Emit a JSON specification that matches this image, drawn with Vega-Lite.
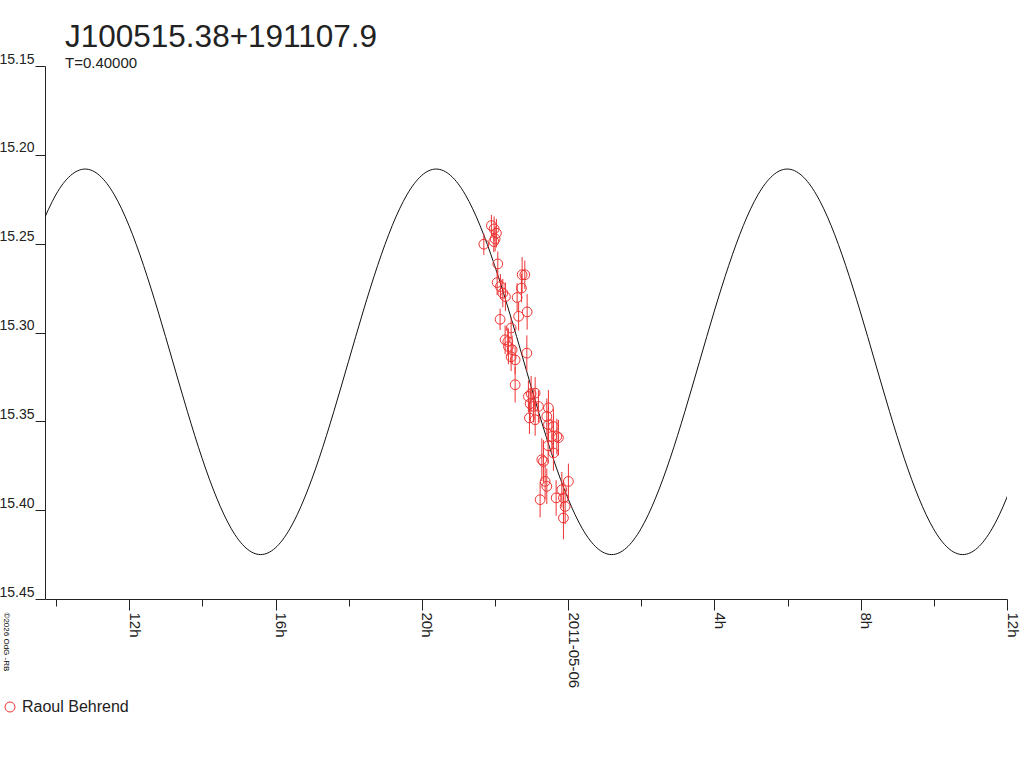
{
  "$schema": "https://vega.github.io/schema/vega-lite/v6.json",
  "width": 962,
  "height": 533,
  "autosize": "none",
  "padding": {"left": 45, "top": 66, "right": 17, "bottom": 169},
  "background": "white",
  "config": {
    "view": {"stroke": null},
    "font": "Liberation Sans",
    "axis": {"grid": false, "domainColor": "#222", "tickColor": "#222", "labelColor": "#222", "labelFont": "Liberation Sans", "titleFont": "Liberation Sans"}
  },
  "title": {
    "text": "J100515.38+191107.9",
    "subtitle": "T=0.40000",
    "anchor": "start",
    "frame": "group",
    "dx": 20,
    "offset": -19,
    "fontSize": 31.5,
    "fontWeight": "normal",
    "color": "#222",
    "subtitleFontSize": 15,
    "subtitleColor": "#222",
    "subtitlePadding": 3
  },
  "datasets": {
    "curve": [
      {"hour": 9.59, "mag": 15.2398}, {"hour": 9.99, "mag": 15.2225}, {"hour": 10.39, "mag": 15.2117},
      {"hour": 10.79, "mag": 15.208}, {"hour": 11.19, "mag": 15.2117}, {"hour": 11.59, "mag": 15.2225},
      {"hour": 11.99, "mag": 15.2398}, {"hour": 12.39, "mag": 15.2623}, {"hour": 12.79, "mag": 15.2884},
      {"hour": 13.19, "mag": 15.3165}, {"hour": 13.59, "mag": 15.3446}, {"hour": 13.99, "mag": 15.3708},
      {"hour": 14.39, "mag": 15.3932}, {"hour": 14.79, "mag": 15.4105}, {"hour": 15.19, "mag": 15.4213},
      {"hour": 15.59, "mag": 15.425}, {"hour": 15.99, "mag": 15.4213}, {"hour": 16.39, "mag": 15.4105},
      {"hour": 16.79, "mag": 15.3932}, {"hour": 17.19, "mag": 15.3708}, {"hour": 17.59, "mag": 15.3446},
      {"hour": 17.99, "mag": 15.3165}, {"hour": 18.39, "mag": 15.2884}, {"hour": 18.79, "mag": 15.2623},
      {"hour": 19.19, "mag": 15.2398}, {"hour": 19.59, "mag": 15.2225}, {"hour": 19.99, "mag": 15.2117},
      {"hour": 20.39, "mag": 15.208}, {"hour": 20.79, "mag": 15.2117}, {"hour": 21.19, "mag": 15.2225},
      {"hour": 21.59, "mag": 15.2398}, {"hour": 21.99, "mag": 15.2623}, {"hour": 22.39, "mag": 15.2884},
      {"hour": 22.79, "mag": 15.3165}, {"hour": 23.19, "mag": 15.3446}, {"hour": 23.59, "mag": 15.3708},
      {"hour": 23.99, "mag": 15.3932}, {"hour": 24.39, "mag": 15.4105}, {"hour": 24.79, "mag": 15.4213},
      {"hour": 25.19, "mag": 15.425}, {"hour": 25.59, "mag": 15.4213}, {"hour": 25.99, "mag": 15.4105},
      {"hour": 26.39, "mag": 15.3932}, {"hour": 26.79, "mag": 15.3708}, {"hour": 27.19, "mag": 15.3446},
      {"hour": 27.59, "mag": 15.3165}, {"hour": 27.99, "mag": 15.2884}, {"hour": 28.39, "mag": 15.2623},
      {"hour": 28.79, "mag": 15.2398}, {"hour": 29.19, "mag": 15.2225}, {"hour": 29.59, "mag": 15.2117},
      {"hour": 29.99, "mag": 15.208}, {"hour": 30.39, "mag": 15.2117}, {"hour": 30.79, "mag": 15.2225},
      {"hour": 31.19, "mag": 15.2398}, {"hour": 31.59, "mag": 15.2623}, {"hour": 31.99, "mag": 15.2884},
      {"hour": 32.39, "mag": 15.3165}, {"hour": 32.79, "mag": 15.3446}, {"hour": 33.19, "mag": 15.3708},
      {"hour": 33.59, "mag": 15.3932}, {"hour": 33.99, "mag": 15.4105}, {"hour": 34.39, "mag": 15.4213},
      {"hour": 34.79, "mag": 15.425}, {"hour": 35.19, "mag": 15.4213}, {"hour": 35.59, "mag": 15.4105},
      {"hour": 35.99, "mag": 15.3932}, {"hour": 36.39, "mag": 15.3708}
    ],
    "obs": [
      {"hour": 21.694, "mag": 15.2503, "err": 0.006, "observer": "Raoul Behrend"},
      {"hour": 21.901, "mag": 15.2398, "err": 0.006, "observer": "Raoul Behrend"},
      {"hour": 22.038, "mag": 15.2441, "err": 0.008, "observer": "Raoul Behrend"},
      {"hour": 21.967, "mag": 15.2488, "err": 0.006, "observer": "Raoul Behrend"},
      {"hour": 22.003, "mag": 15.2473, "err": 0.007, "observer": "Raoul Behrend"},
      {"hour": 21.975, "mag": 15.2417, "err": 0.007, "observer": "Raoul Behrend"},
      {"hour": 22.076, "mag": 15.2614, "err": 0.007, "observer": "Raoul Behrend"},
      {"hour": 22.057, "mag": 15.2719, "err": 0.007, "observer": "Raoul Behrend"},
      {"hour": 22.147, "mag": 15.2741, "err": 0.007, "observer": "Raoul Behrend"},
      {"hour": 22.213, "mag": 15.2778, "err": 0.008, "observer": "Raoul Behrend"},
      {"hour": 22.284, "mag": 15.2798, "err": 0.008, "observer": "Raoul Behrend"},
      {"hour": 22.139, "mag": 15.2926, "err": 0.006, "observer": "Raoul Behrend"},
      {"hour": 22.741, "mag": 15.2675, "err": 0.01, "observer": "Raoul Behrend"},
      {"hour": 22.815, "mag": 15.2675, "err": 0.008, "observer": "Raoul Behrend"},
      {"hour": 22.722, "mag": 15.275, "err": 0.008, "observer": "Raoul Behrend"},
      {"hour": 22.604, "mag": 15.2803, "err": 0.008, "observer": "Raoul Behrend"},
      {"hour": 22.878, "mag": 15.2884, "err": 0.01, "observer": "Raoul Behrend"},
      {"hour": 22.645, "mag": 15.2909, "err": 0.008, "observer": "Raoul Behrend"},
      {"hour": 22.44, "mag": 15.2975, "err": 0.006, "observer": "Raoul Behrend"},
      {"hour": 22.276, "mag": 15.3041, "err": 0.008, "observer": "Raoul Behrend"},
      {"hour": 22.35, "mag": 15.3051, "err": 0.008, "observer": "Raoul Behrend"},
      {"hour": 22.366, "mag": 15.3079, "err": 0.01, "observer": "Raoul Behrend"},
      {"hour": 22.468, "mag": 15.3097, "err": 0.008, "observer": "Raoul Behrend"},
      {"hour": 22.44, "mag": 15.3137, "err": 0.008, "observer": "Raoul Behrend"},
      {"hour": 22.55, "mag": 15.3154, "err": 0.008, "observer": "Raoul Behrend"},
      {"hour": 22.87, "mag": 15.3116, "err": 0.01, "observer": "Raoul Behrend"},
      {"hour": 22.55, "mag": 15.3294, "err": 0.01, "observer": "Raoul Behrend"},
      {"hour": 22.913, "mag": 15.336, "err": 0.009, "observer": "Raoul Behrend"},
      {"hour": 22.987, "mag": 15.3345, "err": 0.01, "observer": "Raoul Behrend"},
      {"hour": 23.097, "mag": 15.3341, "err": 0.009, "observer": "Raoul Behrend"},
      {"hour": 22.96, "mag": 15.3401, "err": 0.009, "observer": "Raoul Behrend"},
      {"hour": 23.05, "mag": 15.3416, "err": 0.009, "observer": "Raoul Behrend"},
      {"hour": 23.187, "mag": 15.3416, "err": 0.009, "observer": "Raoul Behrend"},
      {"hour": 23.46, "mag": 15.3424, "err": 0.01, "observer": "Raoul Behrend"},
      {"hour": 22.941, "mag": 15.3481, "err": 0.009, "observer": "Raoul Behrend"},
      {"hour": 23.097, "mag": 15.3491, "err": 0.009, "observer": "Raoul Behrend"},
      {"hour": 23.416, "mag": 15.3472, "err": 0.01, "observer": "Raoul Behrend"},
      {"hour": 23.46, "mag": 15.3519, "err": 0.01, "observer": "Raoul Behrend"},
      {"hour": 23.597, "mag": 15.3529, "err": 0.01, "observer": "Raoul Behrend"},
      {"hour": 23.553, "mag": 15.3585, "err": 0.01, "observer": "Raoul Behrend"},
      {"hour": 23.69, "mag": 15.3585, "err": 0.01, "observer": "Raoul Behrend"},
      {"hour": 23.734, "mag": 15.3592, "err": 0.01, "observer": "Raoul Behrend"},
      {"hour": 23.452, "mag": 15.3637, "err": 0.01, "observer": "Raoul Behrend"},
      {"hour": 23.28, "mag": 15.3716, "err": 0.012, "observer": "Raoul Behrend"},
      {"hour": 23.324, "mag": 15.3726, "err": 0.012, "observer": "Raoul Behrend"},
      {"hour": 23.597, "mag": 15.3678, "err": 0.01, "observer": "Raoul Behrend"},
      {"hour": 23.37, "mag": 15.3838, "err": 0.01, "observer": "Raoul Behrend"},
      {"hour": 23.416, "mag": 15.3866, "err": 0.01, "observer": "Raoul Behrend"},
      {"hour": 23.233, "mag": 15.3941, "err": 0.01, "observer": "Raoul Behrend"},
      {"hour": 23.671, "mag": 15.3931, "err": 0.01, "observer": "Raoul Behrend"},
      {"hour": 24.007, "mag": 15.3838, "err": 0.01, "observer": "Raoul Behrend"},
      {"hour": 23.827, "mag": 15.3885, "err": 0.01, "observer": "Raoul Behrend"},
      {"hour": 23.871, "mag": 15.3931, "err": 0.01, "observer": "Raoul Behrend"},
      {"hour": 23.917, "mag": 15.3979, "err": 0.01, "observer": "Raoul Behrend"},
      {"hour": 23.871, "mag": 15.4044, "err": 0.012, "observer": "Raoul Behrend"}
    ]
  },
  "layer": [
    {
      "data": {"name": "curve"},
      "mark": {"type": "line", "color": "#111", "strokeWidth": 1, "interpolate": "natural", "clip": true},
      "encoding": {
        "x": {
          "field": "hour", "type": "quantitative", "title": null,
          "scale": {"domain": [9.694, 36], "nice": false, "zero": false},
          "axis": {
            "values": [10, 11, 12, 13, 14, 15, 16, 17, 18, 19, 20, 21, 22, 23, 24, 25, 26, 27, 28, 29, 30, 31, 32, 33, 34, 35, 36],
            "labelExpr": "datum.value % 4 == 0 ? (datum.value == 24 ? '2011-05-06' : (datum.value % 24) + 'h') : ''",
            "labelAngle": 90,
            "labelAlign": "left",
            "labelBaseline": "alphabetic",
            "labelFontSize": 15,
            "labelPadding": 2,
            "labelOverlap": false,
            "labelBound": false,
            "labelFlush": false,
            "tickSize": {"condition": {"test": "datum.value % 4 == 0", "value": 11}, "value": 7},
            "domainWidth": 1
          }
        },
        "y": {
          "field": "mag", "type": "quantitative", "title": "©2026 OdG -RB",
          "scale": {"domain": [15.15, 15.45], "reverse": true, "nice": false, "zero": false},
          "axis": {
            "titleAngle": 90,
            "titleFontSize": 8,
            "titleFontWeight": "normal",
            "titleX": -40,
            "titleY": 546,
            "titleAlign": "left",
            "titleBaseline": "middle",
            "values": [15.15, 15.2, 15.25, 15.3, 15.35, 15.4, 15.45],
            "format": ".2f",
            "labelFontSize": 14,
            "labelBaseline": "alphabetic",
            "labelOffset": -3,
            "labelPadding": 1,
            "tickSize": 10
          }
        }
      }
    },
    {
      "data": {"name": "obs"},
      "mark": {"type": "errorbar", "color": "#ee3333", "thickness": 1},
      "encoding": {
        "x": {"field": "hour", "type": "quantitative", "title": null},
        "y": {"field": "mag", "type": "quantitative", "title": "©2026 OdG -RB"},
        "yError": {"field": "err"}
      }
    },
    {
      "data": {"name": "obs"},
      "mark": {"type": "point", "shape": "circle", "filled": false, "size": 95, "strokeWidth": 1, "opacity": 1},
      "encoding": {
        "x": {"field": "hour", "type": "quantitative", "title": null},
        "y": {"field": "mag", "type": "quantitative", "title": "©2026 OdG -RB"},
        "color": {
          "field": "observer", "type": "nominal",
          "scale": {"range": ["#ee3333"]},
          "legend": {
            "title": null,
            "orient": "none",
            "legendX": -43,
            "legendY": 633,
            "labelFontSize": 16,
            "labelColor": "#222",
            "symbolSize": 100,
            "symbolStrokeWidth": 1
          }
        }
      }
    }
  ]
}
